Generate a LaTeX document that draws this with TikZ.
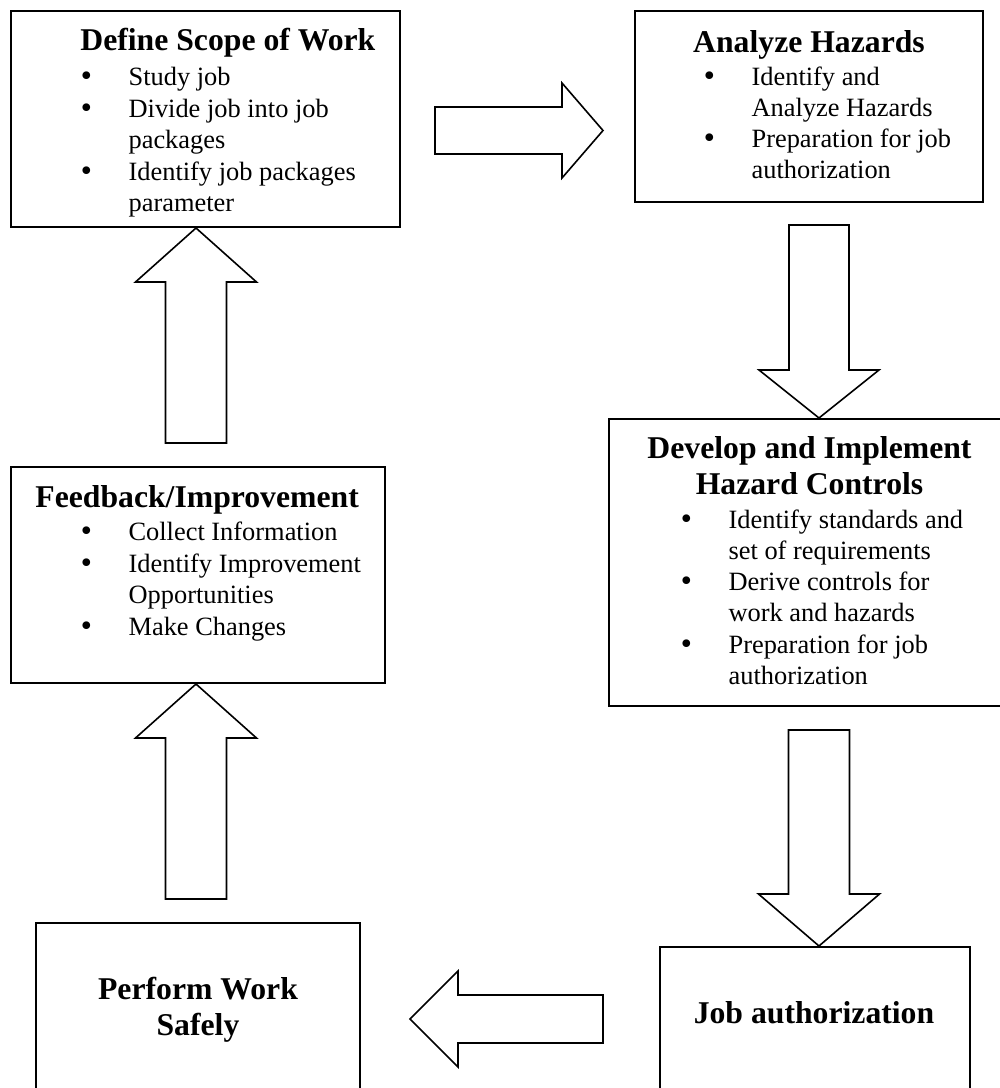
\documentclass[tikz,border=0pt]{standalone}
\usepackage{fontspec}
\setmainfont{Liberation Serif}
\newfontfamily\bulletfont{DejaVu Sans}
\usetikzlibrary{fit}

% multi-line blocks whose baseline is the first line
\newcommand\leftlines[1]{\vtop{\baselineskip=15.6pt\lineskiplimit=-20pt\halign{##\hfil\cr#1\crcr}}}
\newcommand\midlines[1]{\vtop{\baselineskip=18pt\lineskiplimit=-20pt\halign{\hfil##\hfil\cr#1\crcr}}}
\newcommand\bigbullet{{\bulletfont\textbullet}}
\newcommand\bulitem[1]{\makebox[23.4pt][l]{\makebox[4.62pt][c]{\bigbullet}}\leftlines{#1}}

\tikzset{
  box/.style={draw, line width=1pt, inner sep=0pt},
  blockarrow/.style={draw, line width=0.8pt, line join=miter, fill=white},
  head/.style={font=\fontsize{15.85}{18}\selectfont\bfseries, inner sep=0pt, anchor=base},
  headleft/.style={head, anchor=base west},
  body/.style={font=\fontsize{13.2}{15.6}\selectfont, inner sep=0pt, anchor=base west},
}

\begin{document}
\begin{tikzpicture}[x=0.5pt, y=-0.5pt]
\path[use as bounding box, clip] (0,0) rectangle (1000,1088);

% boxes
\node[box, fit={(11,11) (400,227)}] (scope) {};
\node[box, fit={(635,11) (983,202)}] (analyze) {};
\node[box, fit={(609,419) (1010,706)}] (develop) {};
\node[box, fit={(660,947) (970,1100)}] (auth) {};
\node[box, fit={(36,923) (360,1100)}] (perform) {};
\node[box, fit={(11,467) (385,683)}] (feedback) {};

% Define Scope of Work
\node[headleft] (scopeT) at (80,50) {Define Scope of Work};
\node[body] (scope1) at (81.4,85) {\bulitem{Study job}};
\node[body] (scope2) at (81.4,117) {\bulitem{Divide job into job\cr packages}};
\node[body] (scope3) at (81.4,180) {\bulitem{Identify job packages\cr parameter}};

% Analyze Hazards
\node[head] (analyzeT) at (809,52) {Analyze Hazards};
\node[body] (analyze1) at (704.4,85) {\bulitem{Identify and\cr Analyze Hazards}};
\node[body] (analyze2) at (704.4,147) {\bulitem{Preparation for job\cr authorization}};

% Develop and Implement Hazard Controls
\node[head] (developT) at (809.5,458) {\midlines{Develop and Implement\cr Hazard Controls}};
\node[body] (develop1) at (681.4,528) {\bulitem{Identify standards and\cr set of requirements}};
\node[body] (develop2) at (681.4,590) {\bulitem{Derive controls for\cr work and hazards}};
\node[body] (develop3) at (681.4,653) {\bulitem{Preparation for job\cr authorization}};

% Job authorization
\node[head] (authT) at (814,1023) {Job authorization};

% Perform Work Safely
\node[head] (performT) at (198,999) {\midlines{Perform Work\cr Safely}};

% Feedback/Improvement
\node[headleft] (feedbackT) at (35,507) {Feedback/Improvement};
\node[body] (feedback1) at (81.4,540) {\bulitem{Collect Information}};
\node[body] (feedback2) at (81.4,572) {\bulitem{Identify Improvement\cr Opportunities}};
\node[body] (feedback3) at (81.4,635) {\bulitem{Make Changes}};

% arrow tips
\coordinate (colA) at (196,0);
\coordinate (colB) at (819,0);
\coordinate (tipR) at (603,130.5);
\coordinate (tipL) at (410,1019);

% scope -> analyze
\draw[blockarrow] (tipR) -- ++(-41,47.5) -- ++(0,-24) -- ++(-127,0) -- ++(0,-47)
  -- ++(127,0) -- ++(0,-24) -- cycle;
% analyze -> develop
\draw[blockarrow] (colB |- develop.north) -- ++(60,-48) -- ++(-30,0) -- ++(0,-145)
  -- ++(-60,0) -- ++(0,145) -- ++(-30,0) -- cycle;
% develop -> auth
\draw[blockarrow] (colB |- auth.north) -- ++(60.5,-52) -- ++(-30,0) -- ++(0,-164)
  -- ++(-61,0) -- ++(0,164) -- ++(-30,0) -- cycle;
% auth -> perform
\draw[blockarrow] (tipL) -- ++(48,-48) -- ++(0,24) -- ++(145,0) -- ++(0,48)
  -- ++(-145,0) -- ++(0,24) -- cycle;
% perform -> feedback
\draw[blockarrow] (colA |- feedback.south) -- ++(60.5,54) -- ++(-30,0) -- ++(0,161)
  -- ++(-61,0) -- ++(0,-161) -- ++(-30,0) -- cycle;
% feedback -> scope
\draw[blockarrow] (colA |- scope.south) -- ++(60.5,54) -- ++(-30,0) -- ++(0,161)
  -- ++(-61,0) -- ++(0,-161) -- ++(-30,0) -- cycle;
\end{tikzpicture}
\end{document}
